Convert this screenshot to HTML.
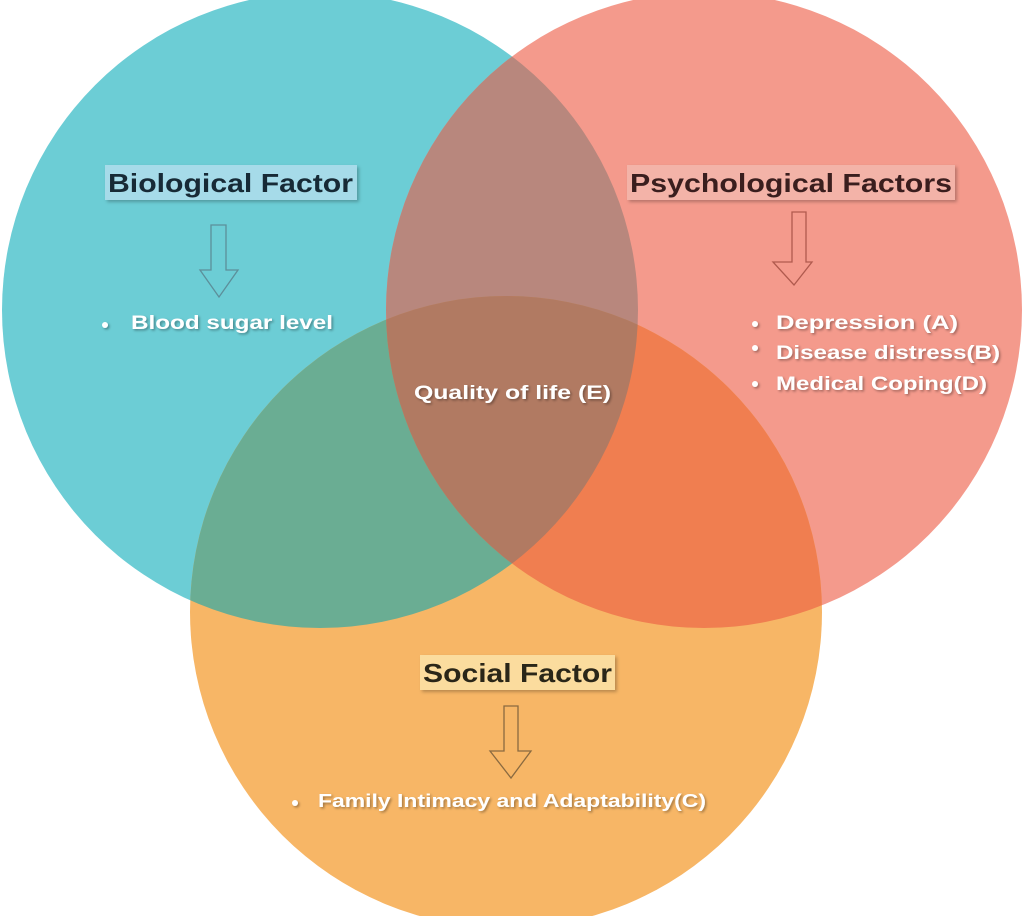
<!DOCTYPE html>
<html><head><meta charset="utf-8"><style>
html,body{margin:0;padding:0;background:#fff;width:1024px;height:916px;overflow:hidden}
svg{display:block}
.t{font-family:"Liberation Sans",Arial,sans-serif;font-weight:bold}
.w{fill:#fff;font-size:19px;filter:url(#sh)}
.h{font-size:26px}
</style></head><body>
<svg width="1024" height="916" viewBox="0 0 1024 916">
<defs>
<clipPath id="cA"><circle cx="320" cy="310" r="318"/></clipPath>
<clipPath id="cB"><circle cx="704" cy="310" r="318"/></clipPath>
<clipPath id="cC"><circle cx="506" cy="612" r="316"/></clipPath>
<filter id="sh" x="-10%" y="-30%" width="120%" height="160%"><feDropShadow dx="1.5" dy="1.5" stdDeviation="1.2" flood-color="#000" flood-opacity="0.35"/></filter>
<filter id="bs" x="-10%" y="-30%" width="120%" height="160%"><feDropShadow dx="2" dy="2" stdDeviation="1.5" flood-color="#000" flood-opacity="0.25"/></filter>
</defs>
<circle cx="320" cy="310" r="318" fill="#6ccdd5"/>
<circle cx="704" cy="310" r="318" fill="#f49a8c"/>
<circle cx="506" cy="612" r="316" fill="#f7b666"/>
<g clip-path="url(#cA)"><circle cx="704" cy="310" r="318" fill="#b8877d"/><circle cx="506" cy="612" r="316" fill="#6aad93"/></g>
<g clip-path="url(#cB)"><circle cx="506" cy="612" r="316" fill="#f07e50"/></g>
<g clip-path="url(#cA)"><g clip-path="url(#cB)"><circle cx="506" cy="612" r="316" fill="#b17a62"/></g></g>

<rect x="105" y="165" width="252" height="35" fill="#a6dbe9" filter="url(#bs)"/>
<text x="108" y="192" class="t h" fill="#172a36" textLength="245" lengthAdjust="spacingAndGlyphs">Biological Factor</text>
<rect x="627" y="165" width="328" height="35" fill="#f3b3a8" filter="url(#bs)"/>
<text x="630" y="192" class="t h" fill="#3a1e1e" textLength="322" lengthAdjust="spacingAndGlyphs">Psychological Factors</text>
<rect x="420" y="655" width="195" height="35" fill="#fbdc9e" filter="url(#bs)"/>
<text x="423" y="682" class="t h" fill="#2a2618" textLength="189" lengthAdjust="spacingAndGlyphs">Social Factor</text>

<g fill="none" stroke-width="1.3">
<path d="M211 225 H226 V270 H238 L219 297 L200 270 H211 Z" stroke="#5c8f9a"/>
<path d="M792 212 H806 V262 H812 L794 285 L773 262 H792 Z" stroke="#b05a4e"/>
<path d="M504 706 H518 V751 H531 L511 778 L490 751 H504 Z" stroke="#8a6a40"/>
</g>

<g fill="#fff" filter="url(#sh)">
<circle cx="105" cy="325" r="3"/>
<circle cx="755" cy="324" r="3"/>
<circle cx="755" cy="348" r="3"/>
<circle cx="755" cy="384" r="3"/>
<circle cx="295" cy="803" r="3"/>
</g>
<g class="t w">
<text x="131" y="329" textLength="202" lengthAdjust="spacingAndGlyphs">Blood sugar level</text>
<text x="776" y="329" textLength="182" lengthAdjust="spacingAndGlyphs">Depression  (A)</text>
<text x="776" y="359" textLength="224" lengthAdjust="spacingAndGlyphs">Disease distress(B)</text>
<text x="776" y="390" textLength="211" lengthAdjust="spacingAndGlyphs">Medical Coping(D)</text>
<text x="414" y="399" textLength="197" lengthAdjust="spacingAndGlyphs">Quality of life  (E)</text>
<text x="318" y="807" font-size="18" textLength="388" lengthAdjust="spacingAndGlyphs">Family Intimacy and Adaptability(C)</text>
</g>
</svg>
</body></html>
